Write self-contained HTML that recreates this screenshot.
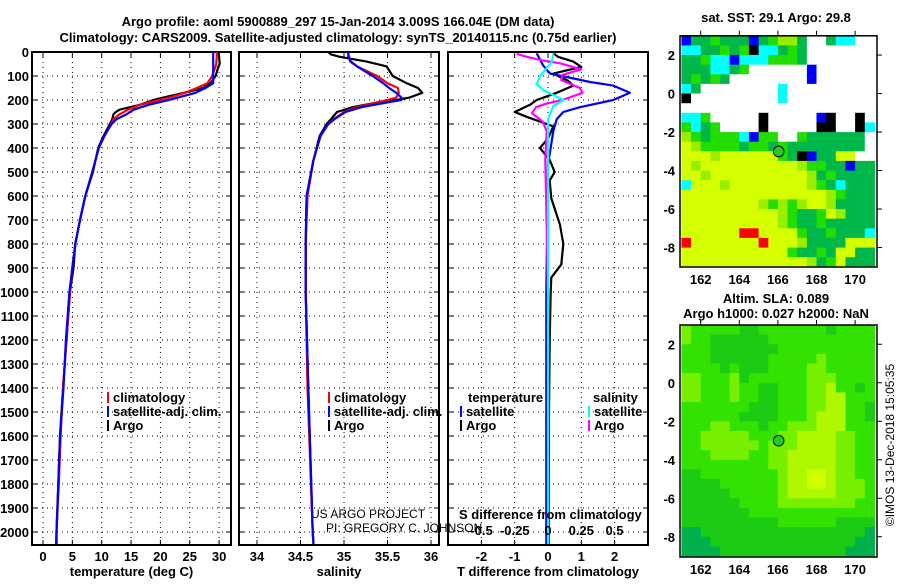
<!DOCTYPE html>
<html><head><meta charset="utf-8"><style>
body{margin:0;background:#fff;}
svg text{font-family:"Liberation Sans",sans-serif;font-weight:bold;font-size:13px;fill:#000;}
</style></head><body>
<svg id="c" width="900" height="580" xmlns="http://www.w3.org/2000/svg">
<text x="338" y="26" text-anchor="middle">Argo profile: aoml 5900889_297 15-Jan-2014 3.009S 166.04E (DM data)</text>
<text x="338" y="42" text-anchor="middle">Climatology: CARS2009. Satellite-adjusted climatology: synTS_20140115.nc (0.75d earlier)</text>
<text x="776" y="22" text-anchor="middle">sat. SST: 29.1 Argo: 29.8</text>
<text x="776" y="303" text-anchor="middle">Altim. SLA: 0.089</text>
<text x="776" y="318" text-anchor="middle">Argo h1000: 0.027 h2000: NaN</text>
<text transform="translate(894,445) rotate(-90)" text-anchor="middle" style="font-weight:normal;font-size:12px">©IMOS 13-Dec-2018 15:05:35</text>
<text x="311" y="518" style="font-weight:normal;font-size:12px">US ARGO PROJECT</text>
<text x="326" y="532" style="font-weight:normal;font-size:12px">PI: GREGORY C. JOHNSON</text>
</svg>
<script>
// ---- profile data ----
const depthT = [0,20,50,60,100,130,150,170,190,200,220,240,250,260,280,300,350,400,500,600,700,800,900,1000,1200,1400,1600,1800,2000,2050];
const tempArgo = [29.9,30.0,30.1,29.9,29.4,28.5,27.3,24.0,20.5,18.8,16.5,13.1,12.4,12.0,11.8,11.4,10.3,9.4,8.5,7.2,6.3,5.5,5.2,4.6,4.0,3.4,2.9,2.6,2.3,2.3];
const tempClim = [29.6,29.6,29.5,29.4,28.8,28.0,26.2,24.2,21.5,19.8,16.5,14.5,13.8,13.0,12.0,11.6,10.5,9.5,8.4,7.2,6.3,5.5,5.0,4.6,4.0,3.4,3.0,2.7,2.3,2.2];
const tempSat = [29.0,29.0,29.0,29.0,29.0,29.0,27.7,26.0,23.0,21.4,18.0,15.5,14.8,14.2,12.5,11.7,10.4,9.5,8.4,7.2,6.3,5.5,5.0,4.5,3.9,3.5,2.9,2.6,2.3,2.3];
const depthS = [0,10,20,40,60,100,130,150,170,190,200,210,230,250,280,300,350,450,600,800,1000,1400,2000,2050];
const salArgo = [34.82,34.85,34.95,35.26,35.49,35.56,35.72,35.85,35.9,35.75,35.6,35.38,35.1,34.92,34.85,34.80,34.72,34.65,34.57,34.56,34.56,34.59,34.64,34.65];
const salClim = [35.05,35.05,35.06,35.07,35.15,35.38,35.5,35.62,35.63,35.6,35.5,35.38,35.15,35.0,34.88,34.82,34.73,34.65,34.58,34.56,34.56,34.58,34.64,34.65];
const salSat = [35.05,35.05,35.05,35.08,35.15,35.33,35.45,35.52,35.6,35.66,35.66,35.5,35.2,35.02,34.89,34.82,34.73,34.65,34.57,34.56,34.56,34.59,34.64,34.65];
const dTargoDepth = [5,20,40,62,90,120,140,170,200,220,250,270,310,360,400,450,500,535,610,720,800,885,940,1000,1200,1500,2050];
const dTargo = [0.16,0.3,0.76,1.0,0.16,0.6,0.76,0.26,-0.34,-0.54,-1.0,-0.64,0.16,0.0,-0.24,0.05,0.2,0.05,0.1,0.36,0.46,0.4,0.1,0.08,0.05,0.03,0.02];
const dTsatDepth = [5,55,90,104,125,140,170,200,230,250,280,330,470,1000,2050];
const dTsat = [-0.34,-0.15,0.06,0.56,1.26,1.96,2.46,1.96,0.96,0.46,0.26,0.16,0.0,-0.05,-0.05];
const dSargoDepth = [8,20,33,47,72,95,117,150,170,200,215,230,255,290,330,445,1000,2050];
const dSargo = [-0.235,-0.16,-0.06,0.09,0.25,0.11,0.1,0.24,0.26,0.11,-0.01,-0.09,-0.12,-0.04,-0.01,-0.02,0,0];
const dSsatDepth = [5,40,75,100,135,160,185,200,225,280,2050];
const dSsat = [0.04,0.03,-0.02,-0.06,-0.085,-0.03,0.06,0.12,0.04,0,0];
const depthTicks = [0,100,200,300,400,500,600,700,800,900,1000,1100,1200,1300,1400,1500,1600,1700,1800,1900,2000];
const tempTicks = [0,5,10,15,20,25,30];
const salTicks = [34,34.5,35,35.5,36];
const tdTicks = [-2,-1,0,1,2];
const sdTicks = [-0.5,-0.25,0,0.25,0.5];
// ---- map data ----
const mapLatTicks = [2,0,-2,-4,-6,-8];
const mapLonTicks = [162,164,166,168,170];
const argoLon = 166.04, argoLat = -3.009;
const sstGrid = [
"BDDGDDDBDGLLDWWDCCWW","CCDDGDGKCCDGDWWWWWWW","DDGCCBCCCGGGDWWWWWWW","DDDCCDGWWWWWWBWWWWWW",
"DGDGDWWWWWWWWBWWWWWW","CDWWWWWWWWCWWWWWWWWW","KWWWWWWWWWCWWWWWWWWW","WWWWWWWWWWWWWWWWWWWW",
"CCGWWWWWKWWWWWBKWWKW","GCDGWWWWKWWWWWKKWWKC","LGDGGGCBGGWWGDDDDDDW","YLGGGGDGGDGDDDDDDDDW",
"YYYLYYYYYYGDKBDDYYWW","YLYYYYYYYYYYLGGDDBDD","YYLYYYYYYYYYYLDGDDDD","CYYYLYYYYYYYYLGDCDDD",
"YYYYYYYYYYYYYYYLGDDD","YYYYYYYYLGLGLYYLDDDD","YYYYYYYYYYLGDDGYLDDD","YYYYYYYYYYLGDDGDDDDD",
"YYYYYYRRYYYYGDDGDDDC","RYYYYYYYRYYYLDDDDYYY","YYYYYYYYYYYGDDGDYYDD","YYYYYYYYYYYYYLDGYDDD"];
const slaGrid = [
"32222211222222212222","32211111122222222222","22211111112222222222","22211111122222322222",
"22221211122223322222","33222312222223332222","33222322112223342212","33222322112223344222",
"22222221112223344221","22222211112223444221","22233222122333444222","22333332223344443322",
"22333333233344443322","22233332233444443322","22222222233444443322","11222222223445543322",
"11112222223445543332","11111222223444443332","11111122223333333322","11111112222222222222",
"11111111112222221111","00111111111111111110","00011111111111111100","00001111111111111000"];

const NS="http://www.w3.org/2000/svg", svg=document.getElementById('c');
function mk(tag, attrs, parent){const e=document.createElementNS(NS,tag);for(const k in attrs)e.setAttribute(k,attrs[k]);(parent||svg).appendChild(e);return e;}
const Y0=52, YB=545;
const yD = d => Y0 + d*0.24;

function panel(name, x0, x1, xs, ticks, tickFmt, title){
  const g=mk('g',{});
  
  
  ticks.forEach(t=>{ if(t===ticks[0]&&xs(t)<=x0+1) return;
    const l=mk('line',{x1:xs(t),x2:xs(t),y1:Y0,y2:YB,stroke:'#000','stroke-dasharray':'1,4','stroke-width':1},g);
    
    
  });
  depthTicks.forEach(d=>{
    const l=mk('line',{x1:x0,x2:x1,y1:yD(d),y2:yD(d),stroke:'#000','stroke-dasharray':'1,4','stroke-width':1},g);
    
    
    mk('line',{x1:x0,x2:x0+5,y1:yD(d),y2:yD(d),stroke:'#000'},g);
    mk('line',{x1:x1-5,x2:x1,y1:yD(d),y2:yD(d),stroke:'#000'},g);
  });
  const r=mk('rect',{x:x0,y:Y0,width:x1-x0,height:YB-Y0,fill:'none',stroke:'#000','stroke-width':2},g);
  
  
  ticks.forEach(t=>{
    mk('line',{x1:xs(t),x2:xs(t),y1:YB-5,y2:YB,stroke:'#000'},g);
    mk('line',{x1:xs(t),x2:xs(t),y1:Y0,y2:Y0+5,stroke:'#000'},g);
    const tx=mk('text',{x:xs(t),y:561,'text-anchor':'middle'},g); tx.textContent=tickFmt(t);
    
    
  });
  const tt=mk('text',{x:(x0+x1)/2,y:576,'text-anchor':'middle'},g); tt.textContent=title;
  
  
  return g;
}
function line(xs, vals, depths, color, name){
  const pts=vals.map((v,i)=>xs(v).toFixed(1)+','+yD(depths[i]).toFixed(1)).join(' ');
  const p=mk('polyline',{points:pts,fill:'none',stroke:color,'stroke-width':2.2,'stroke-linejoin':'round'});
  
  
}
function legend(x,y,items,name){
  items.forEach((it,i)=>{
    mk('rect',{x:x,y:y+i*14-10,width:2,height:11,fill:it[1]});
    const t=mk('text',{x:x+6,y:y+i*14}); t.textContent=it[0];
    
    
  });
}
depthTicks.forEach(d=>{
  const t=mk('text',{x:29,y:yD(d)+5,'text-anchor':'end'}); t.textContent=d;
  
  
});
const xT = v => 43 + v*5.87;
panel('temperature',32,231,xT,tempTicks,t=>t,'temperature (deg C)');
line(xT,tempArgo,depthT,'#000','temp-argo-line');
line(xT,tempClim,depthT,'#f00','temp-climatology-line');
line(xT,tempSat,depthT,'#00f','temp-satellite-line');
legend(107,402,[['climatology','#f00'],['satellite-adj. clim.','#00f'],['Argo','#000']],'temp-legend');
const xS = v => 257 + (v-34)*87;
panel('salinity',239,439,xS,salTicks,t=>t,'salinity');
line(xS,salArgo,depthS,'#000','sal-argo-line');
line(xS,salClim,depthS,'#f00','sal-climatology-line');
line(xS,salSat,depthS,'#00f','sal-satellite-line');
legend(328,402,[['climatology','#f00'],['satellite-adj. clim.','#00f'],['Argo','#000']],'sal-legend');
const xTd = v => 548 + v*33.3;
const xSd = v => 548 + v*133;
panel('difference',448,648,xTd,tdTicks,t=>t,'T difference from climatology');
line(xTd,dTargo,dTargoDepth,'#000','tdiff-argo-line');
line(xTd,dTsat,dTsatDepth,'#00f','tdiff-satellite-line');
line(xSd,dSargo,dSargoDepth,'#f0f','sdiff-argo-line');
line(xSd,dSsat,dSsatDepth,'#0ff','sdiff-satellite-line');
{const t=mk('text',{x:468,y:402}); t.textContent='temperature';
  
 const s=mk('text',{x:593,y:402}); s.textContent='salinity';
  }
legend(460,416,[['satellite','#00f'],['Argo','#000']],'tdiff-legend');
legend(588,416,[['satellite','#0ff'],['Argo','#f0f']],'sdiff-legend');
{const t=mk('text',{x:459,y:519}); t.textContent='S difference from climatology';
  }
sdTicks.forEach(v=>{
  const t=mk('text',{x:xSd(v),y:535,'text-anchor':'middle'}); t.textContent=v;
  
  
});
const mapCol={W:'#fff',Y:'#d4ff00',L:'#99ee00',G:'#22dd00',D:'#00b84a',C:'#00ffff',B:'#0000ff',K:'#000',R:'#ff0000',
 '0':'#00b04c','1':'#1ccc14','2':'#33e200','3':'#77f000','4':'#b0f800','5':'#d0ff00'};
function map(name,grid,top,bottom){
  const lon=v=>681.4+(v-161)*19.3, lat=v=>top+(3-v)*19.25;
  const g=mk('g',{});
  
  
  grid.forEach((row,r)=>{ for(let c=0;c<row.length;c++){
    const x=lon(161+c*0.5), y=lat(3-r*0.5);
    const cell=mk('rect',{x:x.toFixed(1),y:y.toFixed(1),width:10.2,height:10.2,fill:mapCol[row[c]]},g);
    
    
  }});
  mk('rect',{x:877,y:top-2,width:6,height:bottom-top+6,fill:'#fff'},g);
  const cir=mk('circle',{cx:lon(argoLon),cy:lat(argoLat),r:5.3,fill:'#22cc22',stroke:'#000','stroke-width':1},g);
  
  
  const fr=mk('rect',{x:680,y:top,width:197,height:bottom-top,fill:'none',stroke:'#000','stroke-width':1.5},g);
  
  
  mapLatTicks.forEach(v=>{
    mk('line',{x1:877,x2:882,y1:lat(v),y2:lat(v),stroke:'#000'},g);
    const t=mk('text',{x:675,y:lat(v)+5,'text-anchor':'end'},g); t.textContent=v;
    
    
  });
  mapLonTicks.forEach(v=>{
    mk('line',{x1:lon(v),x2:lon(v),y1:top-5,y2:top,stroke:'#000'},g);
    const t=mk('text',{x:lon(v),y:bottom+17,'text-anchor':'middle'},g); t.textContent=v;
    
    
  });
}
map('sst-map',sstGrid,35.8,267);
map('sla-map',slaGrid,325,557);
</script>
</body></html>
